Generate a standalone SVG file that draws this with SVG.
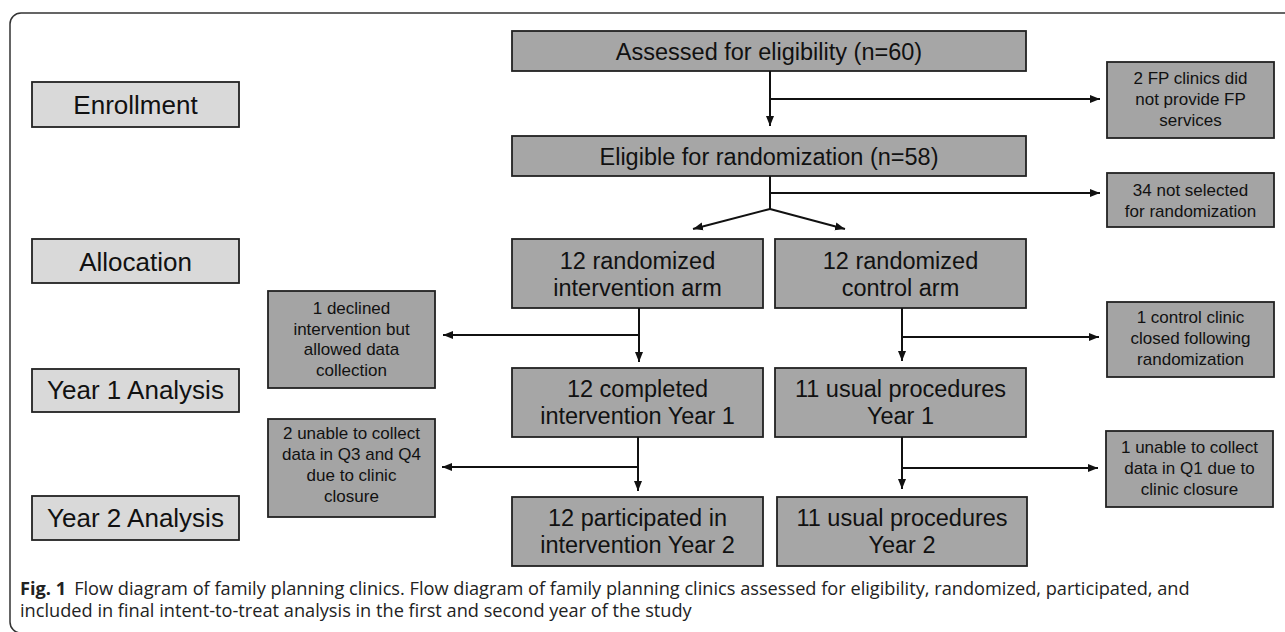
<svg xmlns="http://www.w3.org/2000/svg" width="1285" height="632" viewBox="0 0 1285 632">
<style>
.frame{fill:none;stroke:#333;stroke-width:1.5}
.lbl{fill:#d9d9d9;stroke:#222;stroke-width:1.8}
.box{fill:#a6a6a6;stroke:#222;stroke-width:1.8}
.side{fill:#a4a4a4;stroke:#222;stroke-width:1.8}
text{font-family:"Liberation Sans",Arial,sans-serif;fill:#111;text-anchor:middle}
.t26{font-size:26px}
.t23{font-size:23.5px}
.t17{font-size:17px}
.cap{font-family:"Open Sans","Noto Sans",sans-serif;font-size:18.2px;fill:#222;text-anchor:start}
.con{fill:none;stroke:#111;stroke-width:2}
</style>
<defs>
<marker id="ah" markerUnits="userSpaceOnUse" markerWidth="10" markerHeight="10" viewBox="0 0 10 10" refX="10" refY="5" orient="auto">
<path d="M0,1 L10,5 L0,9 Z" fill="#111"/>
</marker>
</defs>
<rect class="frame" x="10" y="13" width="1300" height="620" rx="11"/>

<g id="lbl-enrollment"><rect class="lbl" x="32" y="82" width="207" height="45"/><text class="t26" x="135.5" y="113.5">Enrollment</text></g>
<g id="lbl-allocation"><rect class="lbl" x="32" y="239" width="207" height="44"/><text class="t26" x="135.5" y="270.5">Allocation</text></g>
<g id="lbl-year1"><rect class="lbl" x="32" y="369" width="207" height="43"/><text class="t26" x="135.5" y="399">Year 1 Analysis</text></g>
<g id="lbl-year2"><rect class="lbl" x="32" y="496" width="207" height="44"/><text class="t26" x="135.5" y="527">Year 2 Analysis</text></g>

<g id="n-assessed"><rect class="box" x="512" y="31" width="514" height="40"/><text class="t23" x="769" y="60">Assessed for eligibility (n=60)</text></g>
<g id="n-eligible"><rect class="box" x="512" y="136" width="514" height="40"/><text class="t23" x="769" y="165">Eligible for randomization (n=58)</text></g>
<g id="n-interv"><rect class="box" x="512" y="239" width="251" height="69"/><text class="t23" x="637.5" y="269">12 randomized</text><text class="t23" x="637.5" y="296">intervention arm</text></g>
<g id="n-control"><rect class="box" x="775" y="239" width="251" height="69"/><text class="t23" x="900.5" y="269">12 randomized</text><text class="t23" x="900.5" y="296">control arm</text></g>
<g id="n-completed1"><rect class="box" x="512" y="368" width="251" height="69"/><text class="t23" x="637.5" y="397">12 completed</text><text class="t23" x="637.5" y="424">intervention Year 1</text></g>
<g id="n-usual1"><rect class="box" x="775" y="368" width="251" height="69"/><text class="t23" x="900.5" y="397">11 usual procedures</text><text class="t23" x="900.5" y="424">Year 1</text></g>
<g id="n-particip2"><rect class="box" x="512" y="497" width="251" height="69"/><text class="t23" x="637.5" y="526">12 participated in</text><text class="t23" x="637.5" y="553">intervention Year 2</text></g>
<g id="n-usual2"><rect class="box" x="777" y="497" width="250" height="69"/><text class="t23" x="902" y="526">11 usual procedures</text><text class="t23" x="902" y="553">Year 2</text></g>

<g id="s-fp"><rect class="side" x="1107" y="62" width="167" height="76"/><text class="t17" x="1190.5" y="84">2 FP clinics did</text><text class="t17" x="1190.5" y="105">not provide FP</text><text class="t17" x="1190.5" y="126">services</text></g>
<g id="s-notsel"><rect class="side" x="1107" y="173" width="167" height="54"/><text class="t17" x="1190.5" y="195.5">34 not selected</text><text class="t17" x="1190.5" y="216.5">for randomization</text></g>
<g id="s-declined"><rect class="side" x="268" y="291" width="167" height="97"/><text class="t17" x="351.5" y="314">1 declined</text><text class="t17" x="351.5" y="334.5">intervention but</text><text class="t17" x="351.5" y="355">allowed data</text><text class="t17" x="351.5" y="376">collection</text></g>
<g id="s-closed"><rect class="side" x="1107" y="302" width="167" height="75"/><text class="t17" x="1190.5" y="323">1 control clinic</text><text class="t17" x="1190.5" y="344">closed following</text><text class="t17" x="1190.5" y="365">randomization</text></g>
<g id="s-unable2"><rect class="side" x="268" y="419" width="167" height="98"/><text class="t17" x="351.5" y="439">2 unable to collect</text><text class="t17" x="351.5" y="460">data in Q3 and Q4</text><text class="t17" x="351.5" y="481">due to clinic</text><text class="t17" x="351.5" y="502">closure</text></g>
<g id="s-unable1"><rect class="side" x="1106" y="431" width="167" height="76"/><text class="t17" x="1189.5" y="453">1 unable to collect</text><text class="t17" x="1189.5" y="474">data in Q1 due to</text><text class="t17" x="1189.5" y="495">clinic closure</text></g>

<g id="connectors">
<path class="con" d="M770,71 V126" marker-end="url(#ah)"/>
<path class="con" d="M770,99 H1100" marker-end="url(#ah)"/>
<path class="con" d="M770,176 V209"/>
<path class="con" d="M770,193 H1100" marker-end="url(#ah)"/>
<path class="con" d="M770,209 L693,229" marker-end="url(#ah)"/>
<path class="con" d="M770,209 L845,229" marker-end="url(#ah)"/>
<path class="con" d="M639,308 V362" marker-end="url(#ah)"/>
<path class="con" d="M639,335 H443" marker-end="url(#ah)"/>
<path class="con" d="M902,308 V361" marker-end="url(#ah)"/>
<path class="con" d="M902,337 H1099" marker-end="url(#ah)"/>
<path class="con" d="M638,437 V491" marker-end="url(#ah)"/>
<path class="con" d="M638,467 H442" marker-end="url(#ah)"/>
<path class="con" d="M902,437 V489" marker-end="url(#ah)"/>
<path class="con" d="M902,468 H1098" marker-end="url(#ah)"/>
</g>

<text class="cap" x="20" y="595"><tspan font-weight="bold">Fig. 1</tspan><tspan dx="8">Flow diagram of family planning clinics. Flow diagram of family planning clinics assessed for eligibility, randomized, participated, and</tspan><tspan x="20" dy="22">included in final intent-to-treat analysis in the first and second year of the study</tspan></text>
</svg>
